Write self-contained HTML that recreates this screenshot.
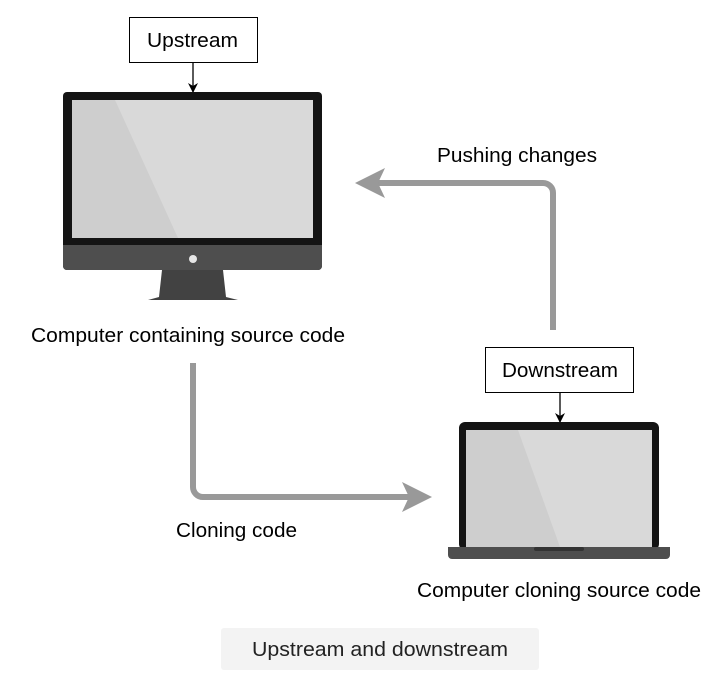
<!DOCTYPE html>
<html><head><style>
body{margin:0;background:#fff;width:716px;height:691px;overflow:hidden;font-family:"Liberation Sans",sans-serif;}
</style></head><body>
<svg width="716" height="691" xmlns="http://www.w3.org/2000/svg" style="position:absolute;left:0;top:0">
<defs>
<marker id="a" markerWidth="10" markerHeight="10" refX="9" refY="5" orient="auto" markerUnits="userSpaceOnUse"><path d="M0,0 L10,5 L0,10 L3,5 Z" fill="#000"/></marker>
</defs>
<rect x="129.5" y="17.5" width="128" height="45" fill="#fff" stroke="#000"/>
<text x="147" y="47" font-size="20" textLength="91" lengthAdjust="spacingAndGlyphs">Upstream</text>
<line x1="193" y1="63" x2="193" y2="92" stroke="#000" stroke-width="1.3" marker-end="url(#a)"/>
<rect x="63" y="92" width="259" height="178" rx="4" fill="#141414"/>
<rect x="72" y="100" width="241" height="138" fill="#d9d9d9"/>
<polygon points="72,100 115,100 178,238 72,238" fill="#cecece"/>
<path d="M63,245 H322 V266 a4,4 0 0 1 -4,4 H67 a4,4 0 0 1 -4,-4 Z" fill="#4e4e4e"/>
<circle cx="193" cy="259" r="4" fill="#e6e6e6"/>
<polygon points="162,270 223,270 226,297 238,300 148,300 159,297" fill="#424242"/>
<rect x="485.5" y="347.5" width="148" height="45" fill="#fff" stroke="#000"/>
<text x="502" y="377" font-size="20" textLength="116" lengthAdjust="spacingAndGlyphs">Downstream</text>
<line x1="560" y1="393" x2="560" y2="422" stroke="#000" stroke-width="1.3" marker-end="url(#a)"/>
<rect x="459" y="422" width="200" height="128" rx="6" fill="#141414"/>
<rect x="466" y="430" width="186" height="117" fill="#d9d9d9"/>
<polygon points="466,430 518,430 560,547 466,547" fill="#cecece"/>
<path d="M448,547 H670 V555 a4,4 0 0 1 -4,4 H452 a4,4 0 0 1 -4,-4 Z" fill="#4e4e4e"/>
<rect x="534" y="547" width="50" height="4" rx="2" fill="#333"/>
<path d="M553,330 V193 a10,10 0 0 0 -10,-10 H375" fill="none" stroke="#999" stroke-width="6"/>
<polygon points="355,183 385,168 378,183 385,198" fill="#999"/>
<path d="M193,363 V487 a10,10 0 0 0 10,10 H412" fill="none" stroke="#999" stroke-width="6"/>
<polygon points="432,497 402,482 409,497 402,512" fill="#999"/>
<text x="437" y="162" font-size="20" textLength="160" lengthAdjust="spacingAndGlyphs">Pushing changes</text>
<text x="31" y="342" font-size="20" textLength="314" lengthAdjust="spacingAndGlyphs">Computer containing source code</text>
<text x="176" y="537" font-size="20" textLength="121" lengthAdjust="spacingAndGlyphs">Cloning code</text>
<text x="417" y="597" font-size="20" textLength="284" lengthAdjust="spacingAndGlyphs">Computer cloning source code</text>
<rect x="221" y="628" width="318" height="42" rx="3" fill="#f3f3f3"/>
<text x="252" y="656" font-size="20" fill="#222" textLength="256" lengthAdjust="spacingAndGlyphs">Upstream and downstream</text>
</svg>
</body></html>
